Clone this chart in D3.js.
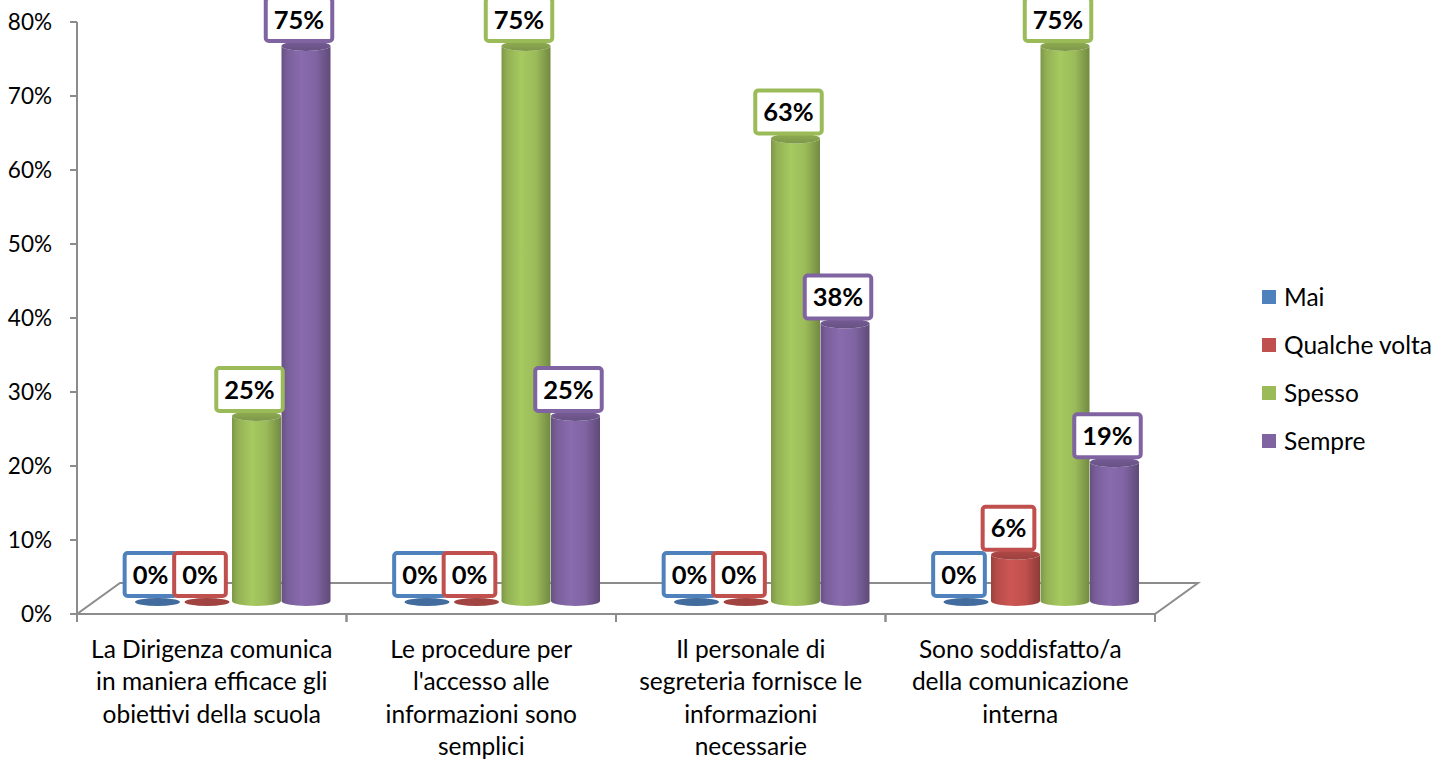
<!DOCTYPE html>
<html><head><meta charset="utf-8">
<script src="https://cdn.jsdelivr.net/npm/d3@7"></script>
<style>body{margin:0;background:#fff;} text{font-family:Lato, "Open Sans", sans-serif;}</style>
</head><body>
<svg id="chart" width="1451" height="760"></svg>
<script>
const categories = ["La Dirigenza comunica in maniera efficace gli obiettivi della scuola",
  "Le procedure per l'accesso alle informazioni sono semplici",
  "Il personale di segreteria fornisce le informazioni necessarie",
  "Sono soddisfatto/a della comunicazione interna"];
const categoryLines = [
  ["La Dirigenza comunica","in maniera efficace gli","obiettivi della scuola"],
  ["Le procedure per","l'accesso alle","informazioni sono","semplici"],
  ["Il personale di","segreteria fornisce le","informazioni","necessarie"],
  ["Sono soddisfatto/a","della comunicazione","interna"]
];
const seriesNames = ["Mai","Qualche volta","Spesso","Sempre"];
const mai = [0, 0, 0, 0];
const qualcheVolta = [0, 0, 0, 0.0625];
const spesso = [0.25, 0.75, 0.625, 0.75];
const sempre = [0.75, 0.25, 0.375, 0.1875];
const yTicks = [0, 0.1, 0.2, 0.3, 0.4, 0.5, 0.6, 0.7, 0.8];

const seriesValues = [mai, qualcheVolta, spesso, sempre];
const colors = ["#4F81BD", "#C0504D", "#9BBB59", "#8064A2"];

const svg = d3.select("#chart");
const defs = svg.append("defs");
const axisColor = "#8c8c8c";

const front = {left: 77, right: 1155, bottom: 614, top: 22};
const depth = {dx: 43, dy: -31};
const barShift = {dx: 20, dy: -13};

const y = d3.scaleLinear().domain([0, 0.8]).range([front.bottom, front.top]);
const x0 = d3.scaleBand().domain(categories).range([front.left, front.right]);
const x1 = d3.scaleBand().domain(seriesNames).range([-99, 99]);

// gradients
colors.forEach((c, i) => {
  const base = d3.color(c);
  const g = defs.append("linearGradient").attr("id", "body" + i).attr("x1", 0).attr("x2", 1).attr("y1", 0).attr("y2", 0);
  g.append("stop").attr("offset", "0%").attr("stop-color", base.darker(0.6));
  g.append("stop").attr("offset", "12%").attr("stop-color", base.darker(0.15));
  g.append("stop").attr("offset", "40%").attr("stop-color", base.brighter(0.2));
  g.append("stop").attr("offset", "70%").attr("stop-color", base);
  g.append("stop").attr("offset", "100%").attr("stop-color", base.darker(0.85));
  const t = defs.append("linearGradient").attr("id", "top" + i).attr("x1", 0).attr("x2", 0).attr("y1", 0).attr("y2", 1);
  t.append("stop").attr("offset", "0%").attr("stop-color", base.darker(0.2));
  t.append("stop").attr("offset", "100%").attr("stop-color", base.darker(0.6));
});

// floor
const floorPts = [
  [front.left, front.bottom], [front.right, front.bottom],
  [front.right + depth.dx, front.bottom + depth.dy], [front.left + depth.dx, front.bottom + depth.dy]
];
svg.append("polygon").attr("points", floorPts.map(p => p.join(",")).join(" "))
  .attr("fill", "none").attr("stroke", axisColor).attr("stroke-width", 2);

// y axis
svg.append("line").attr("x1", front.left).attr("x2", front.left).attr("y1", y(0.8)).attr("y2", y(0))
  .attr("stroke", axisColor).attr("stroke-width", 2);
const yg = svg.append("g");
yTicks.forEach(t => {
  yg.append("line").attr("x1", front.left - 7).attr("x2", front.left).attr("y1", y(t)).attr("y2", y(t))
    .attr("stroke", axisColor).attr("stroke-width", 2);
  yg.append("text").attr("x", 52).attr("y", y(t)).attr("dy", "0.35em").attr("text-anchor", "end")
    .attr("font-size", 22.5).attr("fill", "#000").text(d3.format(".0%")(t));
});

// x ticks
categories.forEach((c, i) => {
  [x0(c), x0(c) + x0.bandwidth()].forEach(xx => {
    svg.append("line").attr("x1", xx).attr("x2", xx).attr("y1", front.bottom).attr("y2", front.bottom + 8)
      .attr("stroke", axisColor).attr("stroke-width", 2);
  });
  const cx = x0(c) + x0.bandwidth() / 2;
  const tx = svg.append("text").attr("text-anchor", "middle").attr("font-size", 24.5).attr("fill", "#000");
  categoryLines[i].forEach((ln, k) => {
    tx.append("tspan").attr("x", cx).attr("y", 658 + k * 32.3).text(ln);
  });
});

// bars
const rx = 24.5, ry = 5;
const barsG = svg.append("g");
const labels = [];
categories.forEach((c, ci) => {
  const gc = x0(c) + x0.bandwidth() / 2 + barShift.dx;
  seriesNames.forEach((s, si) => {
    const v = seriesValues[si][ci];
    const cx = gc + x1(s) + x1.bandwidth() / 2;
    const base = y(0) + barShift.dy;
    const top = y(v) + barShift.dy;
    const l = cx - rx, r = cx + rx;
    if (v > 0) {
      barsG.append("path")
        .attr("d", `M${l},${top} L${l},${base} A${rx},${ry} 0 0 0 ${r},${base} L${r},${top} A${rx},${ry} 0 0 1 ${l},${top} Z`)
        .attr("fill", `url(#body${si})`);
      barsG.append("ellipse").attr("cx", cx).attr("cy", top).attr("rx", rx).attr("ry", ry)
        .attr("fill", `url(#top${si})`);
    } else {
      barsG.append("ellipse").attr("cx", cx).attr("cy", base + 1).attr("rx", rx - 2).attr("ry", ry - 1)
        .attr("fill", d3.color(colors[si]).darker(0.5));
    }
    labels.push({cx: cx - 7, top, v, si});
  });
});

// labels
const lg = svg.append("g");
labels.forEach(d => {
  const g = lg.append("g");
  const t = g.append("text").attr("x", d.cx).attr("y", d.top - 3 - 23.5).attr("dy", "0.36em")
    .attr("text-anchor", "middle").attr("font-size", 25.5).attr("font-weight", "bold").attr("fill", "#000")
    .text(d3.format(".0%")(d.v));
  const w = t.node().getComputedTextLength() + 16;
  g.insert("rect", "text").attr("x", d.cx - w / 2).attr("y", d.top - 3 - 45).attr("width", w).attr("height", 43)
    .attr("rx", 3).attr("fill", "#fff").attr("stroke", colors[d.si]).attr("stroke-width", 4);
});

// legend
const leg = svg.append("g");
seriesNames.forEach((s, i) => {
  const yy = 297 + i * 48;
  leg.append("rect").attr("x", 1262).attr("y", yy - 7).attr("width", 14).attr("height", 14).attr("fill", colors[i]);
  leg.append("text").attr("x", 1284).attr("y", yy).attr("dy", "0.35em").attr("font-size", 24.5).attr("fill", "#000").text(s);
});
</script>
</body></html>
